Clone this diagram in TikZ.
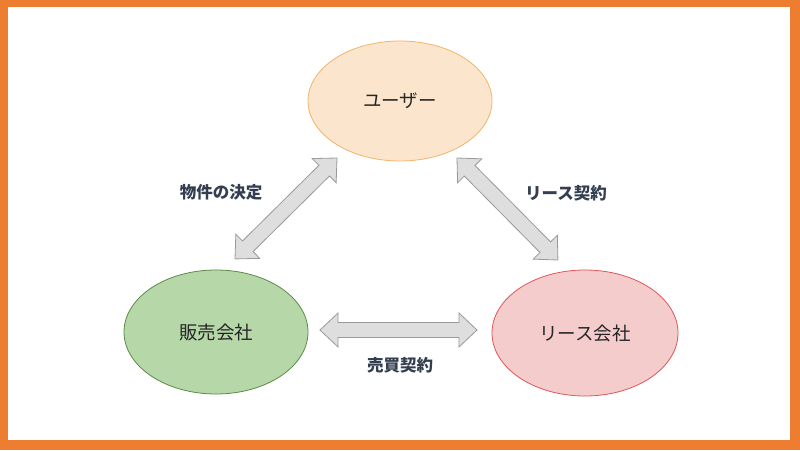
\documentclass[tikz,border=0pt]{standalone}
\usepackage{fontspec}
\newfontfamily\jp{Noto Sans CJK JP}
\definecolor{frameor}{HTML}{ED7D31}
\definecolor{userfill}{HTML}{FCE5CD}
\definecolor{userline}{HTML}{F1B56B}
\definecolor{grfill}{HTML}{B6D7A8}
\definecolor{grline}{HTML}{5E8A47}
\definecolor{pkfill}{HTML}{F4CCCC}
\definecolor{pkline}{HTML}{E0575A}
\definecolor{arrfill}{HTML}{DEDEDE}
\definecolor{arrline}{HTML}{9A9A9A}
\definecolor{labcol}{HTML}{333F50}
\tikzset{
  party/.style={ellipse, draw, line width=0.8pt, inner sep=0pt, font=\jp\fontsize{18.5}{22}\selectfont, text=black!85},
  lab/.style={font=\jp\bfseries\fontsize{16.5}{20}\selectfont, text=labcol},
  dblarrow/.pic={
    \draw[fill=arrfill, draw=arrline, line width=0.8pt, line join=miter]
      (0,0) -- (18,17) -- (18,7.5) -- (#1-18,7.5) -- (#1-18,17) -- (#1,0)
      -- (#1-18,-17) -- (#1-18,-7.5) -- (18,-7.5) -- (18,-17) -- cycle;
  }
}
\usetikzlibrary{shapes.geometric}
\begin{document}
\begin{tikzpicture}[x=1pt,y=1pt]
\useasboundingbox (0,0) rectangle (800,450);
\fill[frameor] (0,0) rectangle (800,450);
\fill[white] (8,10) rectangle (790,443);
\node[party, fill=userfill, draw=userline, minimum width=184pt, minimum height=120pt] (user) at (400,349) {ユーザー};
\node[party, fill=grfill, draw=grline, minimum width=184pt, minimum height=124pt] (sales) at (216,118) {販売会社};
\node[party, fill=pkfill, draw=pkline, minimum width=186pt, minimum height=126pt] (lease) at (585,117) {リース会社};
\coordinate (la) at (337,292);
\coordinate (ra) at (457,292);
\coordinate (ha) at (320,120);
\pic[rotate=224.7] at (la) {dblarrow=143.5};
\pic[rotate=-45.3] at (ra) {dblarrow=143.5};
\pic at (ha) {dblarrow=157};
\node[lab] (l1) at (221,258) {物件の決定};
\node[lab] (l2) at (566,257) {リース契約};
\node[lab] (l3) at (400,85) {売買契約};
\end{tikzpicture}
\end{document}
